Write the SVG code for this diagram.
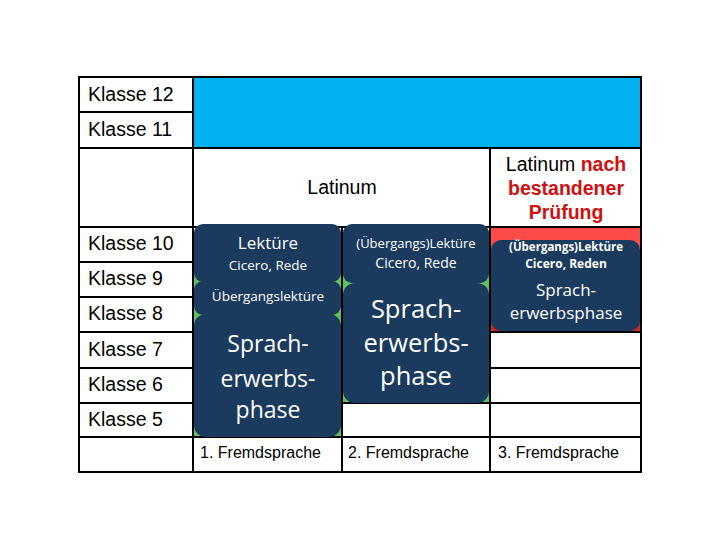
<svg xmlns="http://www.w3.org/2000/svg" width="720" height="540" viewBox="0 0 720 540">
<style>
.ln{stroke:#000;stroke-width:2;fill:none}
.k{font-family:"Liberation Sans",Arial,sans-serif;font-size:19.5px;fill:#000}
.f{font-family:"Liberation Sans",Arial,sans-serif;font-size:16px;fill:#000}
.box{fill:#1a3a5e}
.w{font-family:"Open Sans","Noto Sans",sans-serif;fill:#fff;text-anchor:middle}
</style>
<rect width="720" height="540" fill="#fff"/>
<g id="fills">
<rect x="193" y="77" width="448" height="71" fill="#00b0f0"/>
<rect x="194" y="262" width="147" height="175" fill="#5cc35c"/>
<rect x="343" y="262" width="146" height="141" fill="#5cc35c"/>
<rect x="491" y="228" width="149" height="104" fill="#ff4a4a"/>
<rect x="491" y="300" width="149" height="32" fill="#e02020"/>
</g>
<g id="connectors">
<path class="ln" d="M79 77H641V472H79Z"/>
<path class="ln" d="M79 112H193M79 148H641M79 227H641M79 262H193M79 297H193M79 332H641M79 368H641M79 403H641M79 437H641"/>
<path class="ln" d="M193 77V472M342 227V472M490 148V472"/>
</g>
<g id="col1">
<rect class="box" x="194" y="224" width="147" height="58" rx="9"/>
<rect class="box" x="194" y="281" width="147" height="34" rx="9"/>
<rect class="box" x="194" y="314" width="147" height="123" rx="12"/>
<text class="w" x="268" y="249" font-size="17">Lektüre</text>
<text class="w" x="268" y="270" font-size="13.5">Cicero, Rede</text>
<text class="w" x="268" y="301" font-size="13.5">Übergangslektüre</text>
<text class="w" x="268" y="352" font-size="23">Sprach-</text>
<text class="w" x="268" y="387" font-size="23">erwerbs-</text>
<text class="w" x="268" y="418" font-size="23">phase</text>
</g>
<g id="col2">
<rect class="box" x="343" y="224" width="146" height="59" rx="9"/>
<rect class="box" x="343" y="283" width="146" height="120" rx="12"/>
<text class="w" x="416" y="248" font-size="13">(Übergangs)Lektüre</text>
<text class="w" x="416" y="268" font-size="14">Cicero, Rede</text>
<text class="w" x="416" y="318" font-size="25.5">Sprach-</text>
<text class="w" x="416" y="352" font-size="25.5">erwerbs-</text>
<text class="w" x="416" y="385" font-size="25.5">phase</text>
</g>
<g id="col3">
<rect class="box" x="491" y="240" width="149" height="91" rx="10"/>
<text class="w" x="566" y="251" font-size="11.5" font-weight="bold">(Übergangs)Lektüre</text>
<text class="w" x="566" y="268" font-size="12" font-weight="bold">Cicero, Reden</text>
<text class="w" x="566" y="296" font-size="17">Sprach-</text>
<text class="w" x="566" y="319" font-size="17">erwerbsphase</text>
</g>
<g id="labels">
<text class="k" x="88" y="101">Klasse 12</text>
<text class="k" x="88" y="136">Klasse 11</text>
<text class="k" x="88" y="250">Klasse 10</text>
<text class="k" x="88" y="285">Klasse 9</text>
<text class="k" x="88" y="320">Klasse 8</text>
<text class="k" x="88" y="356">Klasse 7</text>
<text class="k" x="88" y="391">Klasse 6</text>
<text class="k" x="88" y="426">Klasse 5</text>
<text class="k" x="342" y="194" text-anchor="middle">Latinum</text>
<text class="k" x="566" y="171" text-anchor="middle">Latinum <tspan font-weight="bold" style="fill:#d01010">nach</tspan></text>
<text class="k" x="566" y="195" text-anchor="middle" font-weight="bold" style="fill:#d01010">bestandener</text>
<text class="k" x="566" y="219" text-anchor="middle" font-weight="bold" style="fill:#d01010">Prüfung</text>
<text class="f" x="200" y="458">1. Fremdsprache</text>
<text class="f" x="348" y="458">2. Fremdsprache</text>
<text class="f" x="498" y="458">3. Fremdsprache</text>
</g>
</svg>
